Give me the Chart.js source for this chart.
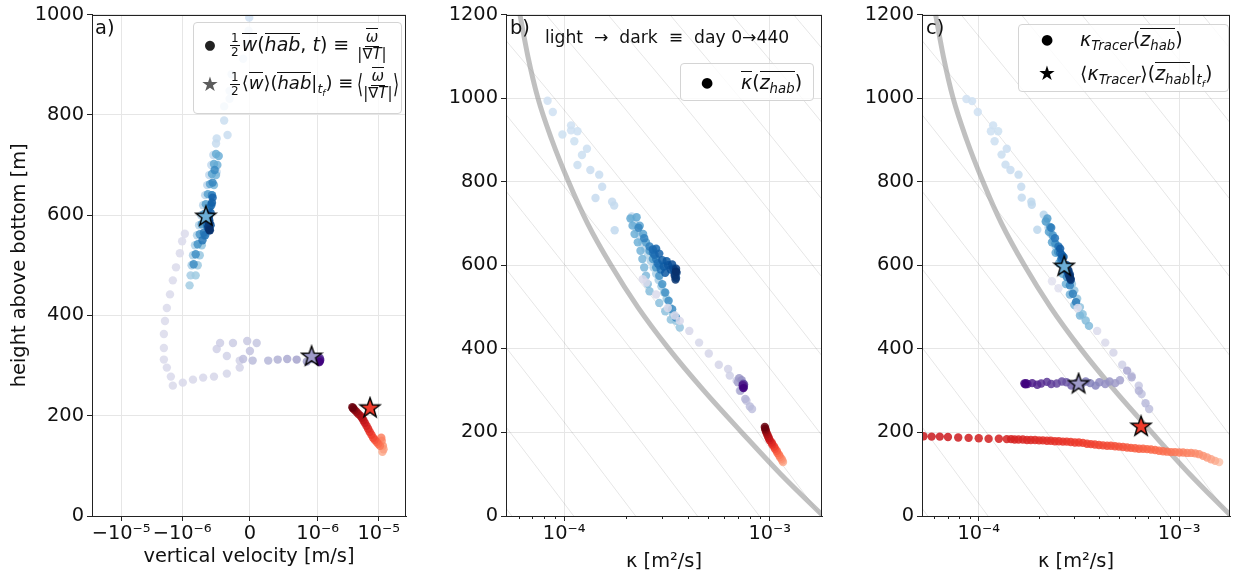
<!DOCTYPE html>
<html>
<head>
<meta charset="utf-8">
<script src="https://cdn.jsdelivr.net/npm/chart.js@4.4.0/dist/chart.umd.min.js"></script>
<style>
  body { margin: 0; background: #fff; font-family: "DejaVu Sans", sans-serif; color: #111; }
  #wrap { position: relative; width: 1241px; height: 576px; overflow: hidden; }
  canvas { position: absolute; top: 0; }
  .lab { position: absolute; font-size: 19.4px; line-height: 1; white-space: nowrap; }
  .leg { position: absolute; background: rgba(255,255,255,0.8); border: 1px solid #d4d4d4; border-radius: 4px; font-size: 19px; }
  .row { position: absolute; height: 36px; display: flex; align-items: center; white-space: nowrap; }
  .mk { position: absolute; width: 20px; text-align: center; line-height: 36px; }
  .fr { display: inline-flex; flex-direction: column; align-items: center; vertical-align: middle; line-height: 1.05; margin: 0 2px; }
  .fr > span:first-child { border-bottom: 1px solid #111; padding: 0 1px; }
  .sm { font-size: 12px; }
  .sm2 { font-size: 15px; }
  .ol { display: inline-block; border-top: 1px solid #111; line-height: 1.05; padding-top: 1px; }
  sub { font-size: 0.7em; vertical-align: -0.3em; line-height: 0; }
  .big { font-size: 26px; line-height: 1; transform: scaleX(0.6); display: inline-block; vertical-align: middle; margin: 0 -4px; }
</style>
</head>
<body>
<div id="wrap">
  <canvas id="ca" width="420" height="576" style="left:0"></canvas>
  <canvas id="cb" width="420" height="576" style="left:420px"></canvas>
  <canvas id="cc" width="401" height="576" style="left:840px"></canvas>

  <div class="lab" style="left:95px;top:18px">a)</div>
  <div class="lab" style="left:510px;top:18px">b)</div>
  <div class="lab" style="left:926px;top:18px">c)</div>
  <div class="lab" style="left:545px;top:29px;font-size:17.2px">light&nbsp; →&nbsp; dark&nbsp; ≡&nbsp; day 0→440</div>

  <div class="leg" style="left:193px;top:22px;width:207px;height:90px">
    <div class="mk" style="left:6px;top:4px;font-size:13px;color:#222">●</div>
    <div class="row" style="left:34px;top:4px"><span>
      <span class="fr sm"><span>1</span><span>2</span></span><span class="ol"><i>w</i></span>(<span class="ol"><i>hab</i></span>, <i>t</i>) ≡ <span class="fr sm2"><span><span class="ol"><i>ω</i></span></span><span>|∇<i>T</i>|</span></span>
    </span></div>
    <div class="mk" style="left:6px;top:43px;font-size:20px;color:#5c5c5c">★</div>
    <div class="row" style="left:34px;top:43px;font-size:18px"><span>
      <span class="fr sm"><span>1</span><span>2</span></span>⟨<span class="ol"><i>w</i></span>⟩(<span class="ol"><i>hab</i></span>|<sub><i>t<sub>f</sub></i></sub>) ≡ <span class="big">⟨</span><span class="fr sm2"><span><span class="ol"><i>ω</i></span></span><span>|∇<i>T</i>|</span></span><span class="big">⟩</span>
    </span></div>
  </div>

  <div class="leg" style="left:680px;top:63px;width:132px;height:36px">
    <div class="mk" style="left:16px;top:0;font-size:14px;color:#000">●</div>
    <div class="row" style="left:60px;top:0"><span><span class="ol"><i>κ</i></span>(<span class="ol"><i>z</i><sub><i>hab</i></sub></span>)</span></div>
  </div>

  <div class="leg" style="left:1018px;top:24px;width:209px;height:66px">
    <div class="mk" style="left:18px;top:-4px;font-size:14px;color:#000">●</div>
    <div class="row" style="left:61px;top:-4px"><span><i>κ</i><sub><i>Tracer</i></sub>(<span class="ol"><i>z</i><sub><i>hab</i></sub></span>)</span></div>
    <div class="mk" style="left:18px;top:30px;font-size:20px;color:#000">★</div>
    <div class="row" style="left:61px;top:30px"><span>⟨<i>κ</i><sub><i>Tracer</i></sub>⟩(<span class="ol"><i>z</i><sub><i>hab</i></sub></span>|<sub><i>t<sub>f</sub></i></sub>)</span></div>
  </div>
</div>

<script>
// ---- data ----
// panel a: vertical velocity [m/s] vs height above bottom [m]
const velTicks = [-1e-5, -1e-6, 0, 1e-6, 1e-5];
const velTickLabels = ['−10⁻⁵', '−10⁻⁶', '0', '10⁻⁶', '10⁻⁵'];
const aBlueW = [-0.01e-6,-0.02e-6,-0.04e-6,-0.10e-6,-0.27e-6,-0.30e-6,-0.30e-6,-0.38e-6,-0.38e-6,-0.33e-6,-0.49e-6,-0.50e-6,-0.49e-6,
  -0.54e-6,-0.57e-6,-0.60e-6,-0.63e-6,-0.66e-6,-0.69e-6,-0.72e-6,-0.75e-6,-0.78e-6,-0.81e-6,-0.84e-6,-0.86e-6,-0.875e-6,-0.89e-6,
  -0.80e-6,-0.77e-6,-0.74e-6,-0.71e-6,-0.68e-6,-0.65e-6,-0.62e-6,-0.59e-6,-0.56e-6,-0.53e-6,-0.50e-6,-0.48e-6,-0.46e-6,
  -0.50e-6,-0.53e-6,-0.56e-6,-0.59e-6,-0.62e-6,-0.65e-6,-0.68e-6,-0.71e-6,-0.74e-6,-0.77e-6,-0.80e-6,-0.83e-6,
  -0.52e-6,-0.55e-6,-0.56e-6,-0.60e-6,-0.64e-6,-0.68e-6,-0.70e-6,-0.66e-6,-0.63e-6,-0.60e-6,-0.57e-6,-0.55e-6,-0.56e-6,-0.58e-6,-0.60e-6,
  -0.62e-6,-0.60e-6,-0.58e-6,-0.60e-6,-0.62e-6,-0.61e-6,-0.60e-6,-0.61e-6,-0.60e-6,-0.59e-6];
const aBlueZ = [994,968,941,912,881,848,832,817,789,760,753,743,686,
  720,700,680,660,640,620,600,580,560,540,520,500,480,460,
  480,500,520,540,560,580,600,620,640,660,680,700,718,
  722,702,682,662,642,622,602,582,562,542,522,502,
  690,665,640,615,590,565,550,560,580,600,620,635,625,605,585,
  575,570,580,590,600,595,585,578,572,570];
const aPurpW = [-0.96e-6,-1.0e-6,-1.09e-6,-1.26e-6,-1.42e-6,-1.58e-6,-1.78e-6,-1.91e-6,-1.99e-6,-1.99e-6,-1.99e-6,-1.78e-6,-1.53e-6,-1.42e-6,
  -0.99e-6,-0.84e-6,-0.69e-6,-0.53e-6,-0.34e-6,-0.15e-6,-0.15e-6,-0.34e-6,-0.49e-6,-0.44e-6,-0.25e-6,-0.04e-6,0.10e-6,0.0,-0.10e-6,
  0.04e-6,0.27e-6,0.41e-6,0.55e-6,0.69e-6,0.84e-6,0.92e-6,0.99e-6,1.02e-6,1.05e-6,1.07e-6,1.09e-6,1.06e-6,1.03e-6,1.08e-6,1.10e-6,1.07e-6];
const aPurpZ = [563,548,524,496,470,442,415,389,363,335,312,296,278,260,
  266,272,276,278,284,296,310,319,333,345,345,349,345,329,313,
  310,310,312,313,312,308,313,313,311,309,312,314,316,314,309,311,307];
const aRedW = [1.15e-5,1.2e-5,1.17e-5,1.12e-5,1.1e-5,1.05e-5,9.8e-6,9.2e-6,8.6e-6,8.1e-6,7.6e-6,7.1e-6,6.7e-6,6.3e-6,5.9e-6,5.6e-6,5.3e-6,5.0e-6,4.6e-6,4.3e-6,4.0e-6,3.8e-6,3.7e-6];
const aRedZ = [128,133,140,150,156,140,144,148,152,156,162,168,174,180,186,191,196,200,204,208,212,215,217];
const aStarW = [-0.65e-6, 0.91e-6, 7.2e-6];
const aStarZ = [598, 319, 216];

// panels b, c: kappa [m^2/s] vs height
const kTicks = [1e-4, 1e-3];
const kTickLabels = ['10⁻⁴', '10⁻³'];
const kMinor = [6e-5,7e-5,8e-5,9e-5,2e-4,3e-4,4e-4,5e-4,6e-4,7e-4,8e-4,9e-4];
const grayZ = [0,100,200,300,400,500,600,700,800,900,1000,1100,1200];
const grayK = [1.82e-3,1.131e-3,7.31e-4,4.78e-4,3.23e-4,2.28e-4,1.69e-4,1.30e-4,1.05e-4,8.71e-5,7.45e-5,6.66e-5,6.09e-5];
const thinZ = [0,200,400,600,800,1000,1200];
const thinK = [8.9e-4,4.37e-4,2.11e-4,1.01e-4,4.79e-5,2.24e-5,1.02e-5];
const thinFactors = [1/16,1/8,1/4,1/2,1,2,4,8,16,32,64,128];

const bBlueK = [8.3e-5,8.8e-5,1.08e-4,1.08e-4,1.16e-4,9.8e-5,1.12e-4,1.29e-4,1.22e-4,1.16e-4,1.34e-4,1.48e-4,1.53e-4,1.42e-4,1.71e-4,1.75e-4,1.76e-4,
  2.13e-4,2.2e-4,2.27e-4,2.33e-4,2.4e-4,2.48e-4,2.56e-4,2.64e-4,2.72e-4,2.8e-4,2.88e-4,2.97e-4,3.06e-4,3.15e-4,3.25e-4,3.38e-4,3.5e-4,3.65e-4,
  3.3e-4,3.1e-4,2.9e-4,2.6e-4,2.55e-4,2.5e-4,2.45e-4,2.4e-4,2.35e-4,2.28e-4,2.2e-4,2.15e-4,2.1e-4,
  2.25e-4,2.33e-4,2.42e-4,2.5e-4,2.6e-4,2.7e-4,2.8e-4,2.9e-4,3.0e-4,3.1e-4,3.22e-4,3.35e-4,3.5e-4,
  2.3e-4,2.45e-4,2.6e-4,2.7e-4,2.8e-4,2.9e-4,2.95e-4,2.85e-4,2.75e-4,2.7e-4,2.8e-4,2.9e-4,3.0e-4,3.05e-4,3.1e-4,
  3.15e-4,3.2e-4,3.3e-4,3.35e-4,3.4e-4,3.45e-4,3.5e-4,3.52e-4,3.5e-4,3.45e-4,3.48e-4,3.5e-4];
const bBlueZ = [994,967,935,923,921,913,897,879,864,840,828,817,788,761,752,743,684,
  717,700,685,670,655,640,625,610,595,580,565,550,535,520,500,483,467,451,
  470,490,510,538,555,575,595,615,635,655,675,695,712,
  715,695,675,655,635,615,595,575,555,535,515,495,475,
  690,665,645,630,615,600,590,605,625,638,640,628,612,597,582,
  610,600,590,602,592,580,570,582,592,575,566,585];
const bPurpK = [2.41e-4,2.51e-4,2.8e-4,3.19e-4,3.45e-4,3.65e-4,4.06e-4,4.53e-4,5.05e-4,5.65e-4,6.27e-4,6.39e-4,6.9e-4,7.15e-4,7.7e-4,8.2e-4,
  8.0e-4,7.6e-4,7.2e-4,7.0e-4,7.1e-4,7.3e-4,7.4e-4,7.45e-4,7.4e-4,7.5e-4,7.42e-4,7.48e-4,7.38e-4,7.45e-4];
const bPurpZ = [567,559,530,498,480,467,443,415,389,362,352,336,324,300,276,256,
  262,280,300,320,330,325,318,312,308,315,316,310,313,306];
const bRedK = [1.16e-3,1.15e-3,1.14e-3,1.12e-3,1.11e-3,1.09e-3,1.08e-3,1.06e-3,1.05e-3,1.03e-3,1.02e-3,1.0e-3,9.9e-4,9.8e-4,9.7e-4,9.6e-4,9.55e-4,9.5e-4,9.46e-4];
const bRedZ = [129,133,137,141,146,151,156,161,166,171,176,181,186,191,196,201,205,209,213];

const cBlueK = [8.68e-5,9.27e-5,9.89e-5,1.18e-4,1.15e-4,1.25e-4,1.2e-4,1.38e-4,1.3e-4,1.36e-4,1.44e-4,1.58e-4,1.63e-4,1.64e-4,1.83e-4,1.84e-4,1.96e-4,
  2.11e-4,2.17e-4,2.23e-4,2.29e-4,2.35e-4,2.42e-4,2.5e-4,2.58e-4,2.66e-4,2.74e-4,2.83e-4,2.92e-4,3.0e-4,3.1e-4,3.2e-4,3.3e-4,3.42e-4,3.55e-4,
  3.2e-4,3.0e-4,2.85e-4,2.72e-4,2.62e-4,2.52e-4,2.42e-4,2.32e-4,2.24e-4,2.16e-4,
  2.2e-4,2.27e-4,2.34e-4,2.41e-4,2.49e-4,2.57e-4,2.66e-4,2.75e-4,2.85e-4,2.95e-4,3.06e-4,
  2.3e-4,2.4e-4,2.5e-4,2.55e-4,2.6e-4,2.65e-4,2.7e-4,2.6e-4,2.55e-4,2.65e-4,2.75e-4,2.8e-4,
  2.75e-4,2.8e-4,2.85e-4,2.88e-4,2.85e-4,2.8e-4,2.83e-4,2.87e-4];
const cBlueZ = [998,993,967,935,921,921,897,879,865,841,828,817,788,762,752,745,685,
  721,705,690,675,660,645,630,615,600,585,570,555,540,520,500,483,468,455,
  480,505,530,555,580,605,630,655,680,705,
  712,692,672,652,632,612,592,572,552,532,512,
  690,665,645,630,615,600,590,625,640,620,600,585,
  590,580,572,565,578,588,575,568];
const cPurpK = [2.32e-4,2.5e-4,3.12e-4,3.9e-4,4.28e-4,4.7e-4,5.2e-4,5.78e-4,6.29e-4,6.5e-4,7.09e-4,6.8e-4,6.3e-4,5.8e-4,5.5e-4,5.07e-4,
  4.8e-4,4.5e-4,4.28e-4,4.0e-4,3.83e-4,3.6e-4,3.42e-4,3.25e-4,3.06e-4,2.9e-4,2.74e-4,2.6e-4,2.45e-4,2.3e-4,2.19e-4,2.05e-4,1.96e-4,1.85e-4,1.75e-4,1.72e-4,1.69e-4,1.71e-4];
const cPurpZ = [562,545,498,443,415,391,362,336,312,292,256,270,300,332,348,325,
  318,322,316,320,312,318,322,315,318,312,320,322,317,316,321,317,314,318,316,318,317,315];
const cRedK = [1.585e-3,1.514e-3,1.445e-3,1.38e-3,1.318e-3,1.259e-3,1.202e-3,1.148e-3,1.096e-3,1.047e-3,1.0e-3,
  9.55e-4,9.12e-4,8.71e-4,8.32e-4,7.94e-4,7.59e-4,7.24e-4,6.92e-4,6.61e-4,6.31e-4,6.03e-4,5.75e-4,5.5e-4,5.25e-4,5.01e-4,
  4.79e-4,4.57e-4,4.37e-4,4.17e-4,3.98e-4,3.8e-4,3.63e-4,3.47e-4,3.31e-4,3.16e-4,3.02e-4,2.88e-4,2.75e-4,2.63e-4,2.51e-4,
  2.4e-4,2.29e-4,2.19e-4,2.09e-4,2.0e-4,1.91e-4,1.82e-4,1.74e-4,1.66e-4,1.58e-4,1.51e-4,1.45e-4,1.38e-4,
  1.26e-4,1.12e-4,1.0e-4,8.9e-5,7.9e-5,7.02e-5,6.39e-5,5.82e-5,5.3e-5];
const cRedZ = [129,132,136,140,144,148,150,151,151,152,152,
  153,153,154,155,156,158,159,160,161,161,162,163,164,165,166,
  167,168,168,169,170,171,172,173,175,176,176,177,178,178,179,
  179,180,180,181,181,182,182,182,183,183,183,184,184,
  185,185,186,187,188,189,190,190,191];
const cStarK = [2.67e-4, 3.15e-4, 6.46e-4];
const cStarZ = [598, 317, 215];

// ---- styling helpers ----
const BLUES = ['#f7fbff','#deebf7','#c6dbef','#9ecae1','#6baed6','#4292c6','#2171b5','#08519c','#08306b'];
const PURPLES = ['#fcfbfd','#efedf5','#dadaeb','#bcbddc','#9e9ac8','#807dba','#6a51a3','#54278f','#3f007d'];
const REDS = ['#fff5f0','#fee0d2','#fcbba1','#fc9272','#fb6a4a','#ef3b2c','#cb181d','#a50f15','#67000d'];
const starColors = ['#6baed6', '#9e9ac8', '#ef3b2c'];

function hexRgb(c) { return [1, 3, 5].map(i => parseInt(c.substr(i, 2), 16)); }
function cmap(stops, t, a) {
  t = Math.max(0, Math.min(1, t));
  const p = t * (stops.length - 1);
  const i = Math.min(Math.floor(p), stops.length - 2);
  const f = p - i;
  const c0 = hexRgb(stops[i]), c1 = hexRgb(stops[i + 1]);
  const c = c0.map((v, k) => Math.round(v + (c1[k] - v) * f));
  return `rgba(${c[0]},${c[1]},${c[2]},${a})`;
}

function starImg(fill) {
  const size = 24, c = document.createElement('canvas');
  c.width = c.height = size;
  const g = c.getContext('2d');
  const R = 10.5, r = R * 0.4, cx = size / 2, cy = size / 2 + 0.5;
  g.beginPath();
  for (let k = 0; k < 10; k++) {
    const ang = -Math.PI / 2 + k * Math.PI / 5;
    const rr = k % 2 ? r : R;
    g.lineTo(cx + rr * Math.cos(ang), cy + rr * Math.sin(ang));
  }
  g.closePath();
  g.fillStyle = fill; g.fill();
  g.lineWidth = 1.4; g.strokeStyle = '#000'; g.stroke();
  return c;
}

function group(xs, zs, stops, lo, hi, gamma) {
  const n = xs.length;
  return {
    data: xs.map((x, i) => ({ x, y: zs[i] })),
    backgroundColor: xs.map((_, i) => cmap(stops, lo + (hi - lo) * Math.pow(i / (n - 1), gamma), 0.85)),
    pointRadius: 4.2, borderWidth: 0, clip: 0, order: 2,
  };
}

function stars(xs, zs) {
  return {
    data: xs.map((x, i) => ({ x, y: zs[i] })),
    pointStyle: starColors.map(starImg),
    pointRadius: 10, clip: 0, order: 0,
  };
}

function backgroundCurves() {
  const sets = thinFactors.map(f => ({
    data: thinK.map((k, i) => ({ x: k * f, y: thinZ[i] })),
    showLine: true, pointRadius: 0, borderColor: 'rgba(0,0,0,0.1)', borderWidth: 1,
    tension: 0.3, clip: 0, order: 6,
  }));
  sets.push({
    data: grayK.map((k, i) => ({ x: k, y: grayZ[i] })),
    showLine: true, pointRadius: 0, borderColor: 'rgba(150,150,150,0.6)', borderWidth: 5,
    cubicInterpolationMode: 'monotone', clip: 0, order: 5,
  });
  return sets;
}

// ---- symlog scale (linthresh 1e-6, linscale 1) ----
const LT = 1e-6, LS = 1 / (1 - 0.1);
function symT(v) { const a = Math.abs(v); return a <= LT ? v / LT * LS : Math.sign(v) * (LS + Math.log10(a / LT)); }
function symInv(t) { const a = Math.abs(t); return a <= LS ? t / LS * LT : Math.sign(t) * LT * Math.pow(10, a - LS); }

class SymlogScale extends Chart.Scale {
  parse(raw) { return raw === null || raw === undefined ? NaN : +raw; }
  determineDataLimits() { this.min = this.options.min; this.max = this.options.max; }
  buildTicks() { return velTicks.map(v => ({ value: v })); }
  configure() {
    super.configure();
    this._t0 = symT(this.min);
    this._tr = symT(this.max) - this._t0;
  }
  getLabelForValue(v) { return String(v); }
  getPixelForValue(v) { return this.getPixelForDecimal((symT(v) - this._t0) / this._tr); }
  getValueForPixel(p) { return symInv(this._t0 + this.getDecimalForPixel(p) * this._tr); }
}
SymlogScale.id = 'symlog';
SymlogScale.defaults = {};
Chart.register(SymlogScale);

// frame box + short minor ticks
function framePlugin(minor) {
  return {
    id: 'frame',
    afterDatasetsDraw(chart) {
      const { ctx, chartArea: a } = chart;
      ctx.save();
      ctx.strokeStyle = '#222';
      ctx.lineWidth = 1;
      ctx.strokeRect(Math.round(a.left) + 0.5, Math.round(a.top) + 0.5, Math.round(a.right - a.left) - 1, Math.round(a.bottom - a.top));
      if (minor) {
        const xs = chart.scales.x;
        ctx.beginPath();
        minor.forEach(v => {
          const px = Math.round(xs.getPixelForValue(v)) + 0.5;
          ctx.moveTo(px, a.bottom); ctx.lineTo(px, a.bottom + 3);
        });
        ctx.stroke();
      }
      ctx.restore();
    }
  };
}

Chart.defaults.font.family = '"DejaVu Sans", sans-serif';
Chart.defaults.color = '#111';
Chart.defaults.animation = false;

const tickFont = { size: 19.4 };
const gridStyle = { color: '#e6e6e6', tickColor: '#222', tickLength: 5 };

function yAxis(max, width, title) {
  return {
    type: 'linear', min: 0, max: max,
    ticks: { stepSize: 200, font: tickFont, padding: 3, color: '#111', callback: v => String(v) },
    grid: gridStyle, border: { color: '#222' },
    title: title ? { display: true, text: title, font: { size: 19.4 }, padding: { top: 8, bottom: 0 } } : { display: false },
    afterFit(s) { s.width = width; },
  };
}

function kAxis(padBottom) {
  return {
    type: 'logarithmic', min: 5.21e-5, max: 1.795e-3,
    afterBuildTicks(s) { s.ticks = kTicks.map(v => ({ value: v })); },
    ticks: { font: tickFont, padding: 1, color: '#111', maxRotation: 0, callback: (v, i) => kTickLabels[i] },
    grid: gridStyle, border: { color: '#222' },
    title: { display: true, text: 'κ [m²/s]', font: { size: 19.4 }, padding: { top: 0, bottom: padBottom } },
    afterFit(s) { s.height = 60; },
  };
}

const common = {
  responsive: false, devicePixelRatio: 1,
  plugins: { legend: { display: false }, tooltip: { enabled: false } },
  events: [],
};

// panel a
new Chart(document.getElementById('ca'), {
  type: 'scatter',
  data: { datasets: [
    stars(aStarW, aStarZ),
    group(aRedW, aRedZ, REDS, 0.3, 1.0, 1),
    group(aPurpW, aPurpZ, PURPLES, 0.25, 1.0, 4),
    group(aBlueW, aBlueZ, BLUES, 0.2, 1.0, 1.5),
  ] },
  options: Object.assign({}, common, {
    layout: { padding: { top: 12, right: 14, left: 0, bottom: 0 } },
    scales: {
      x: {
        type: 'symlog', position: 'bottom', min: -3e-5, max: 2.8e-5,
        ticks: { font: tickFont, padding: 1, color: '#111', maxRotation: 0, autoSkip: false, callback: (v, i) => velTickLabels[i] },
        grid: gridStyle, border: { color: '#222' },
        title: { display: true, text: 'vertical velocity [m/s]', font: { size: 19.4 }, padding: { top: 0, bottom: 7 } },
        afterFit(s) { s.height = 60; },
      },
      y: yAxis(1000, 92, 'height above bottom [m]'),
    },
  }),
  plugins: [framePlugin(null)],
});

// panel b
new Chart(document.getElementById('cb'), {
  type: 'scatter',
  data: { datasets: [
    group(bRedK, bRedZ, REDS, 0.3, 1.0, 1),
    group(bPurpK, bPurpZ, PURPLES, 0.25, 1.0, 3),
    group(bBlueK, bBlueZ, BLUES, 0.2, 1.0, 1.5),
    ...backgroundCurves(),
  ] },
  options: Object.assign({}, common, {
    layout: { padding: { top: 12, right: 18, left: 0, bottom: 0 } },
    scales: { x: kAxis(2), y: yAxis(1200, 86, null) },
  }),
  plugins: [framePlugin(kMinor)],
});

// panel c
new Chart(document.getElementById('cc'), {
  type: 'scatter',
  data: { datasets: [
    stars(cStarK, cStarZ),
    group(cRedK, cRedZ, REDS, 0.22, 0.76, 0.5),
    group(cPurpK, cPurpZ, PURPLES, 0.2, 1.0, 1.2),
    group(cBlueK, cBlueZ, BLUES, 0.2, 1.0, 1.5),
    ...backgroundCurves(),
  ] },
  options: Object.assign({}, common, {
    layout: { padding: { top: 12, right: 4, left: 0, bottom: 0 } },
    scales: { x: kAxis(2), y: yAxis(1200, 82, null) },
  }),
  plugins: [framePlugin(kMinor)],
});
</script>
</body>
</html>
